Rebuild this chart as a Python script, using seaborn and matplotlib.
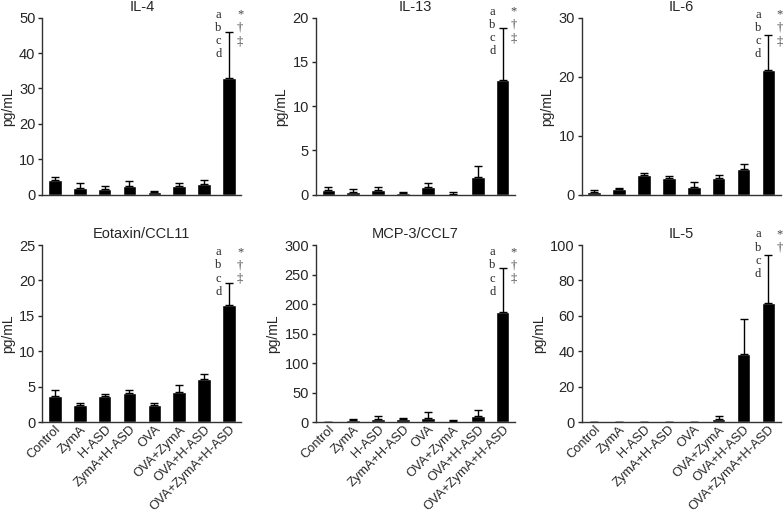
import numpy as np
import pandas as pd
import seaborn as sns
import matplotlib.pyplot as plt
from matplotlib import transforms

# Groups on the x axis
groups = ['Control', 'ZymA', 'H-ASD', 'ZymA+H-ASD', 'OVA',
          'OVA+ZymA', 'OVA+H-ASD', 'OVA+ZymA+H-ASD']

# Mean values (pg/mL) and upper error (SD) for each cytokine
il4_mean = [4.3, 1.9, 1.5, 2.5, 0.8, 2.4, 3.1, 33.0]
il4_err = [0.8, 1.3, 1.0, 1.4, 0.4, 0.8, 1.0, 12.8]

il13_mean = [0.5, 0.35, 0.5, 0.2, 0.85, 0.05, 2.0, 13.0]
il13_err = [0.4, 0.3, 0.4, 0.15, 0.5, 0.3, 1.2, 5.8]

il6_mean = [0.5, 0.9, 3.4, 2.8, 1.4, 2.8, 4.3, 21.1]
il6_err = [0.3, 0.3, 0.25, 0.3, 0.7, 0.6, 0.9, 6.0]

eotaxin_mean = [3.7, 2.4, 3.7, 4.1, 2.4, 4.2, 6.1, 16.6]
eotaxin_err = [0.8, 0.3, 0.3, 0.4, 0.3, 1.0, 0.7, 3.0]

mcp3_mean = [0.0, 3.0, 5.0, 5.0, 7.0, 1.5, 11.0, 186.0]
mcp3_err = [0.0, 2.0, 6.0, 2.0, 10.0, 1.5, 10.0, 75.0]

il5_mean = [0.3, 0.3, 0.3, 0.0, 0.3, 1.8, 38.5, 67.5]
il5_err = [0.0, 0.0, 0.0, 0.0, 0.0, 1.5, 19.5, 27.0]

panels = [
    ('IL-4', il4_mean, il4_err, 50, 10, ['*', '†', '‡'], 1.017),
    ('IL-13', il13_mean, il13_err, 20, 5, ['*', '†', '‡'], 1.034),
    ('IL-6', il6_mean, il6_err, 30, 10, ['*', '†', '‡'], 1.017),
    ('Eotaxin/CCL11', eotaxin_mean, eotaxin_err, 25, 5, ['*', '†', '‡'], 0.96),
    ('MCP-3/CCL7', mcp3_mean, mcp3_err, 300, 50, ['*', '†', '‡'], 0.96),
    ('IL-5', il5_mean, il5_err, 100, 20, ['*', '†'], 1.06),
]
letters = ['a', 'b', 'c', 'd']

sns.set_style('ticks')
plt.rcParams['font.family'] = ['Liberation Sans', 'DejaVu Sans']
plt.rcParams['font.size'] = 10

fig = plt.figure(figsize=(7.84, 5.18), dpi=100)
lefts = [0.054, 0.403, 0.742]
bottoms = [0.624, 0.185]

for i, (title, mean, err, ymax, step, symbols, top) in enumerate(panels):
    row, col = divmod(i, 3)
    ax = fig.add_axes([lefts[col], bottoms[row], 0.254, 0.342])
    df = pd.DataFrame({'group': groups, 'value': mean})
    sns.barplot(data=df, x='group', y='value', color='black', width=0.55,
                errorbar=None, ax=ax, saturation=1)
    ax.errorbar(np.arange(len(groups)), mean, yerr=[np.zeros(len(err)), err],
                fmt='none', ecolor='black', elinewidth=1, capsize=3, capthick=1)
    ax.set_xlim(-0.5, 7.5)
    ax.set_ylim(0, ymax)
    ax.set_yticks(np.arange(0, ymax + step / 2, step))
    ax.set_title(title, fontsize=10.5, pad=5)
    ax.set_ylabel('pg/mL', fontsize=10, labelpad=3)
    ax.set_xlabel('')
    ax.tick_params(axis='x', length=0, pad=1)
    ax.tick_params(axis='y', length=3, width=1, labelsize=10.5, pad=2)
    for s in ['left', 'bottom']:
        ax.spines[s].set_color('#333333')
        ax.spines[s].set_linewidth(1)
    sns.despine(ax=ax)
    if row == 0:
        ax.set_xticklabels([])
    else:
        ax.set_xticklabels(groups, rotation=45, ha='right',
                           rotation_mode='anchor', fontsize=9.3)

    trans = transforms.blended_transform_factory(ax.transData, ax.transAxes)
    for k, letter in enumerate(letters):
        ax.text(7 - 0.42, top - k * 0.075, letter, transform=trans,
                ha='center', va='center', fontsize=9,
                family=['Liberation Serif', 'DejaVu Serif'])
    for k, sym in enumerate(symbols):
        ax.text(7 + 0.45, top - k * 0.075, sym, transform=trans,
                ha='center', va='center', fontsize=9, color='#444444',
                family=['Liberation Serif', 'DejaVu Serif'])

fig.savefig('out.png', dpi=100)
